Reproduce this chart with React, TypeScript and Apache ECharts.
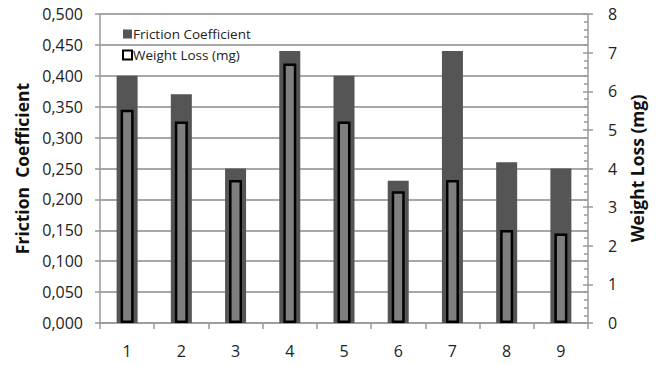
import React, { useEffect, useRef } from "react";
import * as echarts from "echarts";

const categories = ["1", "2", "3", "4", "5", "6", "7", "8", "9"];
const frictionCoefficient = [0.4, 0.37, 0.25, 0.44, 0.4, 0.23, 0.44, 0.26, 0.25];
const weightLossMg = [5.52, 5.22, 3.7, 6.72, 5.22, 3.41, 3.7, 2.41, 2.32];

const FONT = "Open Sans";

export default function App() {
  const ref = useRef<HTMLDivElement>(null);
  useEffect(() => {
    if (!ref.current) return;
    const chart = echarts.init(ref.current, null, { renderer: "svg" });
    const axisGray = "#9a9a9a";
    const gridGray = "#8a8a8a";
    chart.setOption({
      animation: false,
      backgroundColor: "#ffffff",
      textStyle: { fontFamily: FONT },
      grid: { left: 100, right: 71, top: 14, bottom: 42, containLabel: false },
      legend: {
        left: 117,
        top: 22,
        orient: "vertical",
        itemGap: 7,
        itemWidth: 9,
        itemHeight: 9,
        textStyle: { fontFamily: FONT, fontSize: 13.5, color: "#222", padding: [0, 0, 0, -4] },
        data: [
          { name: "Friction Coefficient", icon: "rect", itemStyle: { color: "#555555", borderWidth: 0 } },
          {
            name: "Weight Loss (mg)",
            icon: "rect",
            itemStyle: { color: "#ffffff", borderColor: "#000000", borderWidth: 2 },
          },
        ],
      },
      xAxis: [
        {
          type: "category",
          data: categories,
          axisLine: { show: true, lineStyle: { color: axisGray, width: 1.5 } },
          axisTick: { show: true, length: 6, lineStyle: { color: axisGray, width: 1.5 } },
          axisLabel: { fontFamily: FONT, fontSize: 16, color: "#222", margin: 20 },
          splitLine: { show: false },
        },
        {
          type: "category",
          data: categories,
          show: false,
          position: "bottom",
        },
      ],
      yAxis: [
        {
          type: "value",
          min: 0,
          max: 0.5,
          interval: 0.05,
          name: "Friction  Coefficient",
          nameLocation: "middle",
          nameGap: 66,
          nameTextStyle: { fontFamily: FONT, fontSize: 17.5, fontWeight: "bold", color: "#111" },
          axisLine: { show: true, lineStyle: { color: axisGray, width: 1.5 } },
          axisTick: { show: true, length: 5, lineStyle: { color: axisGray, width: 1.5 } },
          axisLabel: {
            fontFamily: FONT,
            fontSize: 16,
            color: "#222",
            margin: 17,
            formatter: (v: number) => v.toFixed(3).replace(".", ","),
          },
          splitLine: { show: true, lineStyle: { color: gridGray, width: 1.5 } },
        },
        {
          type: "value",
          min: 0,
          max: 8,
          interval: 1,
          position: "right",
          name: "Weight Loss (mg)",
          nameLocation: "middle",
          nameRotate: 90,
          nameGap: 37,
          nameTextStyle: { fontFamily: FONT, fontSize: 17.5, fontWeight: "bold", color: "#111" },
          axisLine: { show: true, lineStyle: { color: axisGray, width: 1.5 } },
          axisTick: { show: true, inside: true, length: 5, lineStyle: { color: axisGray, width: 1.5 } },
          minorTick: { show: true, splitNumber: 5, length: 4, lineStyle: { color: axisGray, width: 1.5 } },
          axisLabel: { fontFamily: FONT, fontSize: 16, color: "#222", margin: 20 },
          splitLine: { show: false },
        },
        {
          type: "value",
          min: 0,
          max: 8,
          interval: 1,
          position: "right",
          axisLine: { show: false },
          axisTick: { show: true, inside: false, length: 5, lineStyle: { color: axisGray, width: 1.5 } },
          axisLabel: { show: false },
          splitLine: { show: false },
        },
      ],
      series: [
        {
          name: "Friction Coefficient",
          type: "bar",
          xAxisIndex: 0,
          yAxisIndex: 0,
          data: frictionCoefficient,
          barWidth: 21,
          itemStyle: { color: "#555555" },
          z: 2,
        },
        {
          name: "Weight Loss (mg)",
          type: "bar",
          xAxisIndex: 1,
          yAxisIndex: 1,
          data: weightLossMg,
          barWidth: 13,
          itemStyle: { color: "#7f7f7f", borderColor: "#000000", borderWidth: 2.5 },
          z: 3,
        },
      ],
    });
    return () => chart.dispose();
  }, []);
  return <div ref={ref} style={{ width: 659, height: 365, position: "absolute", left: 0, top: 0 }} />;
}
